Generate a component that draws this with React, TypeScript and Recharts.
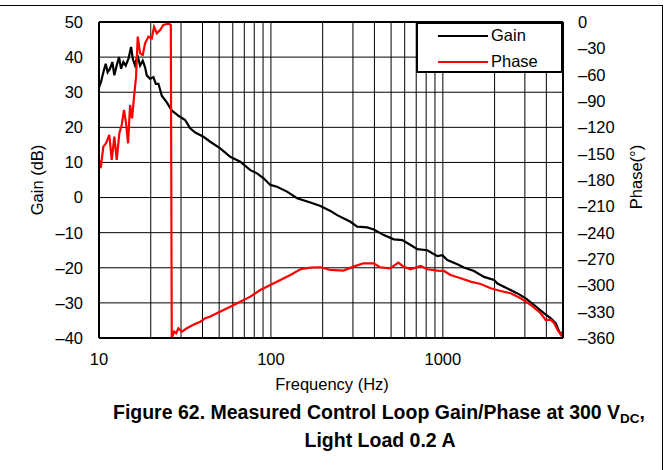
import { LineChart, Line, XAxis, YAxis, CartesianGrid, ReferenceLine, Legend } from "recharts";

const gainFreq = [10, 10.27, 10.6, 10.94, 11.23, 11.59, 11.96, 12.28, 12.67, 13.08, 13.44, 13.86, 14.3, 14.83, 15.37, 15.72, 16.21, 16.73, 17.34, 17.97, 18.54, 18.96, 19.83, 20.73, 21.39, 22.17, 23.19, 24.8, 26.5, 29.0, 31.7, 33.9, 36.3, 40.5, 44.4, 50.7, 58.0, 66.3, 75.9, 83.0, 90.7, 99.2, 108.5, 124.1, 142.0, 169.7, 194.1, 221.9, 242.8, 290.1, 317.5, 363.1, 396.7, 453.8, 518.8, 580.7, 649.4, 710.3, 812.2, 929, 993.4, 1062, 1215, 1327, 1518, 1736, 1986, 2078, 2376, 2718, 3037, 3396, 3884, 4249, 4543, 4750, 4924, 5000];
const gainDb = [31.4, 32.9, 35.7, 38.1, 35.7, 36.7, 38.6, 34.8, 37.6, 40.0, 36.7, 38.6, 37.6, 39.5, 42.9, 39.5, 37.6, 40.5, 37.6, 39.0, 37.1, 34.8, 33.8, 34.3, 32.4, 32.4, 29.0, 27.1, 24.8, 23.3, 22.1, 19.7, 18.5, 17.3, 15.9, 14.0, 11.6, 10.2, 7.8, 6.9, 5.5, 3.6, 3.1, 1.7, -0.2, -1.4, -2.4, -3.8, -5.0, -6.9, -8.3, -8.5, -9.1, -10.7, -11.9, -12.1, -13.5, -14.7, -15.0, -16.7, -16.4, -17.8, -19.0, -19.9, -20.9, -22.6, -23.5, -24.5, -25.9, -27.3, -28.7, -30.6, -33.0, -34.4, -35.8, -38.2, -39.2, -38.7];

const phaseFreq = [10, 10.23, 10.6, 10.98, 11.48, 11.86, 12.28, 12.68, 13.13, 13.56, 13.98, 14.37, 14.76, 15.16, 15.57, 15.99, 16.43, 16.8, 17.34, 17.97, 18.54, 19.38, 20.28, 20.91, 21.69, 22.67, 23.67, 24.8, 25.69, 26.17, 26.5, 27.37, 28.12, 28.96, 30.36, 32.43, 35.4, 38.82, 41.5, 44.4, 48.5, 53.0, 58.0, 66.3, 75.9, 86.7, 99.2, 113.5, 129.8, 148.5, 169.7, 194.1, 221.9, 264.1, 302.1, 345.3, 396.7, 430.6, 492.4, 551.4, 589.2, 649.4, 742.6, 812.2, 929, 1015, 1109, 1269, 1451, 1659, 1897, 2169, 2481, 2837, 3244, 3709, 3960, 4249, 4443, 4647, 4857, 5000];
const phaseDeg = [-157, -166.6, -142, -138.2, -128.7, -157.2, -130.6, -157.2, -126.8, -117.3, -100.2, -115.4, -138.2, -94.5, -109.7, -85.1, -62.3, -16.7, -35.7, -37.6, -24.3, -16.7, -18.6, -5.4, -12.9, -9.1, -3.4, -2.3, -2.3, -3.4, -360, -352.7, -354.6, -348.9, -352.7, -348.9, -345, -341.4, -337.5, -335.5, -331.8, -328, -324.3, -318.6, -312.9, -305.3, -299.6, -293.9, -288.2, -281.7, -279.8, -279.4, -282.5, -283.2, -278.7, -274.9, -274.9, -279.4, -280.6, -274.1, -278.7, -281.7, -278, -281.7, -283.2, -283.6, -288.2, -291.9, -295.8, -298.4, -303.3, -306.4, -309, -314.7, -322.3, -331.8, -339.4, -339.4, -343.2, -350.8, -356.5, -352];

const freqTicks = [10, 100, 1000];
const gridFreqs = [20, 30, 40, 50, 60, 70, 80, 90, 100, 200, 300, 400, 500, 600, 700, 800, 900, 1000, 2000, 3000, 4000];
const gainTicks = [-40, -30, -20, -10, 0, 10, 20, 30, 40, 50];
const phaseTicks = [-360, -330, -300, -270, -240, -210, -180, -150, -120, -90, -60, -30, 0];

const gainData = gainFreq.map((f, i) => ({ f, v: gainDb[i] }));
const phaseData = phaseFreq.map((f, i) => ({ f, v: phaseDeg[i] }));

const font = '"Liberation Sans", Arial, sans-serif';
const fs = 16.5;
const dash = (v: number) => String(v).replace("-", "\u2013");
const tickStyle = { fill: "#000", fontSize: fs, fontFamily: font };
const axisLine = { stroke: "#000", strokeWidth: 2 };

const LegendBox = () => (
  <div style={{ width: 147, height: 51, boxSizing: "border-box", border: "2px solid #000", background: "#fff", fontFamily: font, fontSize: fs, color: "#000", position: "relative" }}>
    {[{ name: "Gain", color: "#000", y: 11 }, { name: "Phase", color: "#ff0000", y: 37 }].map((it) => (
      <div key={it.name}>
        <div style={{ position: "absolute", left: 20, top: it.y, width: 50, height: 0, borderTop: `2px solid ${it.color}` }} />
        <div style={{ position: "absolute", left: 73, top: it.y - 10, lineHeight: "20px" }}>{it.name}</div>
      </div>
    ))}
  </div>
);

export default function App() {
  return (
    <div style={{ position: "absolute", left: 0, top: 0, width: 668, height: 470, background: "#fff" }}>
      <div style={{ position: "absolute", left: 0, top: 5, width: 662, height: 470, borderTop: "1px solid #000", borderRight: "1px solid #000" }} />
      <LineChart width={668} height={470} margin={{ top: 22, right: 45, bottom: 102, left: 39 }}>
        <CartesianGrid yAxisId="gain" vertical={false} stroke="#000" strokeOpacity={1} />
        <XAxis dataKey="f" type="number" scale="log" domain={[10, 5000]} ticks={freqTicks} allowDataOverflow
          height={30} tickLine={false} tickSize={0} tickMargin={15} axisLine={axisLine} tick={tickStyle} />
        <YAxis yAxisId="gain" domain={[-40, 50]} ticks={gainTicks} width={60} tickLine={false} tickSize={0} tickMargin={16}
          axisLine={axisLine} tick={tickStyle} tickFormatter={dash} interval={0} />
        <YAxis yAxisId="phase" orientation="right" domain={[-360, 0]} ticks={phaseTicks} width={60} tickLine={false} tickSize={0} tickMargin={15}
          axisLine={axisLine} tick={{ ...tickStyle, textAnchor: "start" }} tickFormatter={dash} interval={0} />
        {gridFreqs.map((f) => (
          <ReferenceLine key={f} x={f} yAxisId="gain" stroke="#000" strokeWidth={1} />
        ))}
        <ReferenceLine y={50} yAxisId="gain" stroke="#000" strokeWidth={2} />
        <Line yAxisId="gain" data={gainData} dataKey="v" name="Gain" type="linear" stroke="#000" strokeWidth={2.2} dot={false} isAnimationActive={false} />
        <Line yAxisId="phase" data={phaseData} dataKey="v" name="Phase" type="linear" stroke="#ff0000" strokeWidth={2.2} dot={false} isAnimationActive={false} />
        <Legend layout="vertical" align="center" verticalAlign="middle" content={() => <LegendBox />}
          wrapperStyle={{ position: "absolute", left: 416, top: 22, width: 147, height: 51 }} />
      </LineChart>
      <svg width={668} height={470} style={{ position: "absolute", left: 0, top: 0, pointerEvents: "none" }} fontFamily={font} fill="#000">
        <text x={332} y={390} textAnchor="middle" fontSize={fs}>Frequency (Hz)</text>
        <text transform="translate(43,180) rotate(-90)" textAnchor="middle" fontSize={fs}>Gain (dB)</text>
        <text transform="translate(642,177) rotate(-90)" textAnchor="middle" fontSize={fs}>Phase(°)</text>
        <text x={379} y={419} textAnchor="middle" fontSize={19.5} fontWeight="bold">
          <tspan>Figure 62. Measured Control Loop Gain/Phase at 300 V</tspan>
          <tspan fontSize={13.5} dy={4}>DC</tspan>
          <tspan dy={-4}>,</tspan>
        </text>
        <text x={380} y={447} textAnchor="middle" fontSize={19.5} fontWeight="bold">Light Load 0.2 A</text>
      </svg>
    </div>
  );
}
